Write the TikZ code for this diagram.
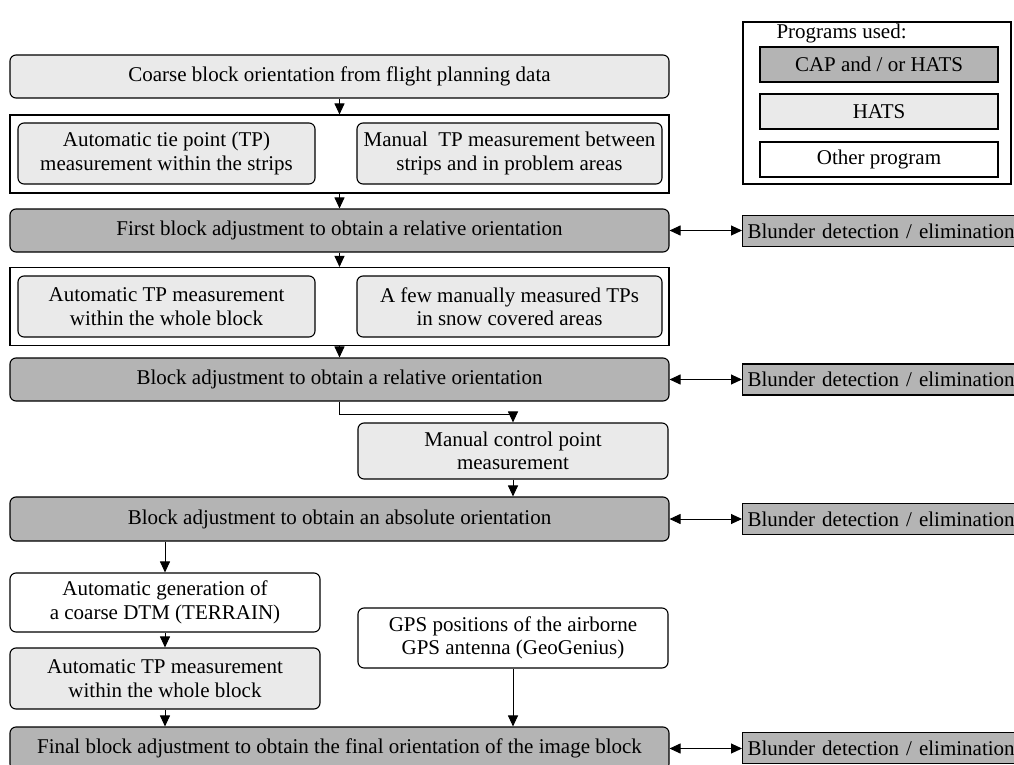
\documentclass[tikz,border=0pt]{standalone}
\usepackage{fontspec}
\setmainfont{Liberation Serif}
\usetikzlibrary{arrows.meta}
\definecolor{capgray}{RGB}{180,180,180}
\definecolor{hatsgray}{RGB}{234,234,234}

\begin{document}
\begin{tikzpicture}[x=1pt,y=-1pt,
    every node/.style={font=\fontsize{21}{23.5}\selectfont, align=center,
        inner sep=0pt, line width=1.1pt},
    capbox/.style={draw, fill=capgray, rounded corners=6pt},
    hatsbox/.style={draw, fill=hatsgray, rounded corners=6pt},
    otherbox/.style={draw, fill=white, rounded corners=6pt},
    wide/.style={minimum width=659pt, minimum height=43pt},
    half/.style={minimum width=297pt, minimum height=61pt},
    blunder/.style={draw, fill=capgray, minimum width=300pt,
        minimum height=31pt, anchor=west, text width=290pt, align=left,
        inner xsep=2pt},
    keybox/.style={draw, minimum width=238pt, minimum height=35pt},
    group/.style={draw, minimum width=659pt, minimum height=78pt},
    flow/.style={-{Triangle[length=11pt,width=10pt]}, line width=1pt},
    both/.style={{Triangle[length=11pt,width=10pt]}-{Triangle[length=11pt,width=10pt]},
        line width=1pt},
]
\path[use as bounding box, clip] (0,0) rectangle (1014,765);

% legend
\node[draw, minimum width=268pt, minimum height=162pt] (legend) at (877,103) {};
\node[anchor=west] (legtitle) at (776,33) {Programs used:};
\node[keybox, fill=capgray]  (keycap)   at (879,64.5)  {CAP and / or HATS};
\node[keybox, fill=hatsgray] (keyhats)  at (879,111.5) {HATS};
\node[keybox, fill=white]    (keyother) at (879,159.5) {Other program};

% main column
\node[hatsbox, wide] (coarse) at (339.5,76.5) {Coarse block orientation from flight planning data};

\node[group] (grpA) at (339.5,154) {};
\node[hatsbox, half] (autotie) at (166.5,153.5) {Automatic tie point (TP)\\measurement within the strips};
\node[hatsbox, half, minimum width=305pt] (mantie) at (509.5,153.5) {Manual\ \ TP measurement between\\strips and in problem areas};

\node[capbox, wide] (firstadj) at (339.5,230.5) {First block adjustment to obtain a relative orientation};

\node[group] (grpB) at (339.5,306.5) {};
\node[hatsbox, half] (autoblock) at (166.5,306.5) {Automatic TP measurement\\within the whole block};
\node[hatsbox, half, minimum width=305pt] (fewtp) at (509.5,306.5) {A few manually measured TPs\\in snow covered areas};

\node[capbox, wide] (reladj) at (339.5,379.5) {Block adjustment to obtain a relative orientation};

\node[hatsbox, minimum width=310pt, minimum height=56pt] (control) at (513,451) {Manual control point\\measurement};

\node[capbox, wide, minimum height=44pt] (absadj) at (339.5,519) {Block adjustment to obtain an absolute orientation};

\node[otherbox, minimum width=310pt, minimum height=59pt] (dtm) at (165,602.5) {Automatic generation of\\a coarse DTM (TERRAIN)};
\node[hatsbox, minimum width=310pt, minimum height=61pt] (autofinal) at (165,678.5) {Automatic TP measurement\\within the whole block};
\node[otherbox, minimum width=310pt, minimum height=60pt] (gps) at (513,638) {GPS positions of the airborne\\GPS antenna (GeoGenius)};

\node[capbox, wide] (finaladj) at (339.5,748.5) {Final block adjustment to obtain the final orientation of the image block};

% blunder checks
\node[blunder] (blunderA) at (742,231)   {Blunder detection / elimination};
\node[blunder] (blunderB) at (742,379.5) {Blunder detection / elimination};
\node[blunder] (blunderC) at (742,519)   {Blunder detection / elimination};
\node[blunder] (blunderD) at (742,748)   {Blunder detection / elimination};

% connectors
\coordinate (bend) at (339.5,414);
\draw[flow] (coarse) -- (grpA);
\draw[flow] (grpA) -- (firstadj);
\draw[flow] (firstadj) -- (grpB);
\draw[flow] (grpB) -- (reladj);
\draw[flow] (reladj.south) -- (bend) -| (control.north);
\draw[flow] (control.south) -- (control.south |- absadj.north);
\draw[flow] (dtm.north |- absadj.south) -- (dtm.north);
\draw[flow] (dtm) -- (autofinal);
\draw[flow] (autofinal.south) -- (autofinal.south |- finaladj.north);
\draw[flow] (gps.south) -- (gps.south |- finaladj.north);

\draw[both] (firstadj.east) -- (firstadj.east -| blunderA.west);
\draw[both] (reladj.east)   -- (reladj.east -| blunderB.west);
\draw[both] (absadj.east)   -- (absadj.east -| blunderC.west);
\draw[both] (finaladj.east) -- (finaladj.east -| blunderD.west);

\end{tikzpicture}
\end{document}
